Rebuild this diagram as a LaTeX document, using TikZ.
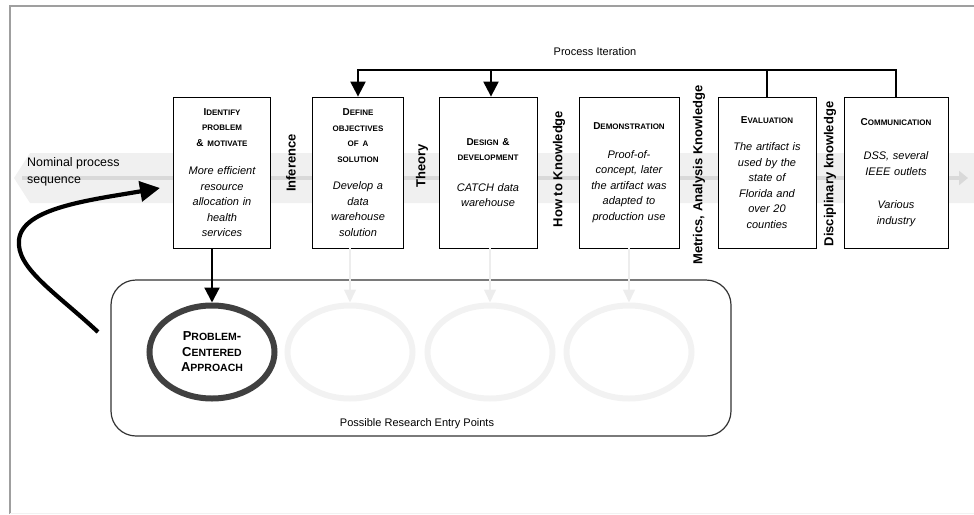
\documentclass[tikz,border=0pt]{standalone}
\usepackage{fontspec}
\setmainfont{Liberation Sans}
\usetikzlibrary{arrows.meta,shapes.geometric}
\newcommand{\hd}[1]{{\upshape\bfseries\fontsize{10}{15.5}\selectfont #1}}
\newcommand{\smc}[1]{{\fontsize{8}{15.5}\selectfont #1}}
\begin{document}
\begin{tikzpicture}[x=1pt,y=-1pt,
  stagebox/.style={draw, fill=white, line width=0.8pt, minimum height=151pt, minimum width=#1+6pt, text width=#1, inner sep=0pt, align=center, font=\fontsize{11}{15.5}\selectfont\itshape},
  sidelabel/.style={rotate=90, inner sep=0pt, font=\fontsize{13}{15}\selectfont\bfseries},
  iter/.style={line width=2.2pt},
  ghost/.style={draw=gray!14, line width=1.6pt},
  ghostring/.style={draw=gray!10, line width=6pt, ellipse, minimum width=125pt, minimum height=93pt, inner sep=0pt}]
\useasboundingbox (0,0) rectangle (974,514);
% frame
\draw[gray!75, line width=1.2pt] (10,514) -- (10,6) -- (974,6);
\draw[gray!10, line width=1pt] (10,513) -- (974,513);
% nominal process band
\fill[gray!12] (30,153) -- (14,178) -- (30,203) -- (974,203) -- (974,153) -- cycle;
\draw[gray!30, line width=4pt, -{Triangle[length=9pt,width=14pt]}] (22,178) -- (968,178);
\node[anchor=west, align=left, inner sep=0pt, font=\fontsize{12.4}{17}\selectfont] (nominal) at (27,172) {Nominal process\\sequence};
% stages
\node[stagebox=91pt] (identify) at (222,172.5) {\hd{I\smc{DENTIFY}}\\ \hd{\smc{PROBLEM}}\\ \hd{\& \smc{MOTIVATE}}\\[13pt] More efficient\\ resource\\ allocation in\\ health\\ services};
\node[stagebox=85pt] (define) at (358,172.5) {\hd{D\smc{EFINE}}\\ \hd{\smc{OBJECTIVES}}\\ \hd{\smc{OF A}}\\ \hd{\smc{SOLUTION}}\\[12pt] Develop a\\ data\\ warehouse\\ solution};
\node[stagebox=92pt] (design) at (488,172.5) {\hd{D\smc{ESIGN} \&}\\ \hd{\smc{DEVELOPMENT}}\\[15pt] CATCH data\\ warehouse};
\node[stagebox=94pt] (demonstration) at (629,172.5) {\hd{D\smc{EMONSTRATION}}\\[13pt] Proof-of-\\ concept, later\\ the artifact was\\ adapted to\\ production use};
\node[stagebox=92pt] (evaluation) at (767,172.5) {\hd{E\smc{VALUATION}}\\[12pt] The artifact is\\ used by the\\ state of\\ Florida and\\ over 20\\ counties};
\node[stagebox=98pt] (communication) at (896,172.5) {\hd{C\smc{OMMUNICATION}}\\[19pt] DSS, several\\ IEEE outlets\\[18pt] Various\\ industry};
% knowledge labels
\node[sidelabel] (inference) at (291,163) {Inference};
\node[sidelabel] (theory) at (422,166) {Theory};
\node[sidelabel] (howto) at (559,169) {How to Knowledge};
\node[sidelabel] (metrics) at (699,175) {Metrics, Analysis Knowledge};
\node[sidelabel] (disciplinary) at (830,174) {Disciplinary knowledge};
% process iteration
\node[font=\fontsize{11}{13}\selectfont] (iteration) at (595,52) {Process Iteration};
\coordinate (iterline) at (600,70);
\draw[iter, -{Triangle[length=15pt,width=15pt]}] (communication.north) |- (define.north |- iterline) -- (define.north);
\draw[iter] (evaluation.north) -- (evaluation.north |- iterline);
\draw[iter, -{Triangle[length=15pt,width=15pt]}] (491,70) -- (design.north -| 491,0);
% entry points
\node[draw=black!80, line width=1.2pt, rounded corners=25pt, minimum width=620pt, minimum height=156pt] (entrybox) at (421,358) {};
\node[font=\fontsize{11}{13}\selectfont] (entrylabel) at (417,424) {Possible Research Entry Points};
\node[ellipse, draw=black!75, line width=6pt, minimum width=125pt, minimum height=93pt, inner sep=0pt, align=center, font=\fontsize{13}{15.5}\selectfont\bfseries] (pca) at (212,352) {P{\fontsize{10.5}{15.5}\selectfont ROBLEM}-\\ C{\fontsize{10.5}{15.5}\selectfont ENTERED}\\ A{\fontsize{10.5}{15.5}\selectfont PPROACH}};
\foreach \n/\x in {b/350, c/490, d/629} \node[ghostring] (entry\n) at (\x,352) {};
\foreach \src/\dst in {define/entryb, design/entryc, demonstration/entryd} \draw[ghost, -{Triangle[length=13pt,width=12pt]}] (\src.south -| \dst.north) -- (\dst.north);
\draw[iter, -{Triangle[length=15pt,width=15pt]}] (identify.south -| pca.north) -- (pca.north);
% re-entry arrow
\coordinate (loopstart) at (98,332);
\draw[line width=4.2pt, -{Triangle[length=20pt,width=20pt]}] (loopstart) .. controls (55,292) and (16,268) .. (19,240) .. controls (22,208) and (90,200) .. (160,188);
\end{tikzpicture}
\end{document}
